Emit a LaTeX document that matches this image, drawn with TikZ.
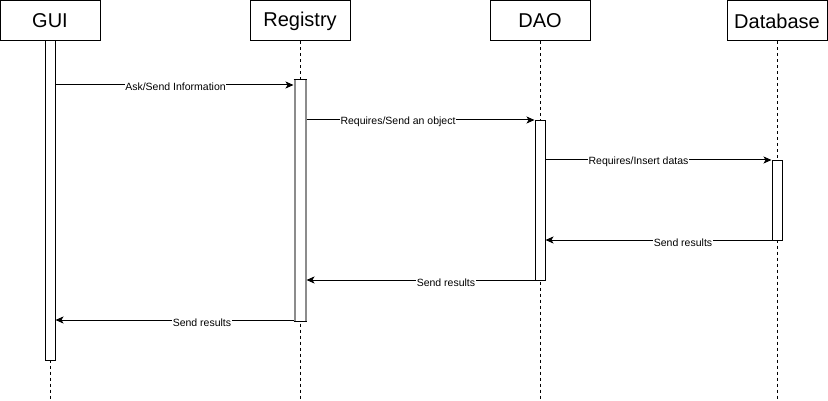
\documentclass[tikz,border=0pt]{standalone}
\usepackage{fontspec}
\setmainfont{Liberation Sans}
\usetikzlibrary{arrows.meta}
\begin{document}
\begin{tikzpicture}[x=1pt,y=-1pt,line width=1pt,
  actor/.style={draw, minimum width=100pt, minimum height=40pt, inner sep=0pt, anchor=north, font=\fontsize{20}{24}\selectfont},
  act/.style={draw, fill=white, minimum width=10pt, inner sep=0pt, anchor=north},
  life/.style={dash pattern=on 3pt off 3pt, line width=0.8pt},
  msg/.style={-{Stealth[length=8pt,width=7pt,inset=2pt]}},
  lbl/.style={fill=white, inner sep=0.5pt, font=\fontsize{10.5}{12}\selectfont}
]
\useasboundingbox (0,0) rectangle (828,401);
% actors
\node[actor] (gui) at (50,0.5) {GUI};
\node[actor] (reg) at (300,0.5) {Registry};
\node[actor] (dao) at (540,0.5) {DAO};
\node[actor] (db)  at (777,0.5) {Database};
% lifelines
\coordinate (guiE) at (50,400);
\coordinate (regE) at (300,400);
\coordinate (daoE) at (540,400);
\coordinate (dbE)  at (777,400);
\draw[life] (gui.south) -- (guiE);
\draw[life] (reg.south) -- (regE);
\draw[life] (dao.south) -- (daoE);
\draw[life] (db.south) -- (dbE);
% activations
\node[act, minimum height=320pt] (ga) at (50,40) {};
\node[act, draw=none, minimum height=240pt] (ra) at (300,80) {};
\draw[gray!90, line width=2pt] (ra.north west) -- (ra.south west);
\draw[gray!90, line width=2pt] (ra.north east) -- (ra.south east);
\draw ([xshift=-1pt]ra.north west) -- ([xshift=1pt]ra.north east);
\draw ([xshift=-1pt]ra.south west) -- ([xshift=1pt]ra.south east);
\node[act, minimum height=160pt] (da) at (540,120) {};
\node[act, minimum height=80pt] (dba) at (777,160) {};
% messages
\draw[msg] ([xshift=0.5pt]ga.east |- 0,85) -- ([xshift=-1pt]ra.west |- 0,85);
\node[lbl] (l1) at (175.5,87) {Ask/Send Information};
\draw[msg] ([xshift=1pt]ra.east |- 0,120) -- (da.west |- 0,120);
\node[lbl] (l2) at (398,122) {Requires/Send an object};
\draw[msg] (da.east |- 0,160) -- (dba.west |- 0,160);
\node[lbl] (l3) at (638.5,162) {Requires/Insert datas};
\draw[msg] (dba.west |- 0,240) -- (da.east |- 0,240);
\node[lbl] (l4) at (683,243) {Send results};
\draw[msg] (da.west |- 0,280) -- ([xshift=1pt]ra.east |- 0,280);
\node[lbl] (l5) at (446,283) {Send results};
\draw[msg] ([xshift=-1pt]ra.west |- 0,320) -- (ga.east |- 0,320);
\node[lbl] (l6) at (202,323) {Send results};
\end{tikzpicture}
\end{document}
